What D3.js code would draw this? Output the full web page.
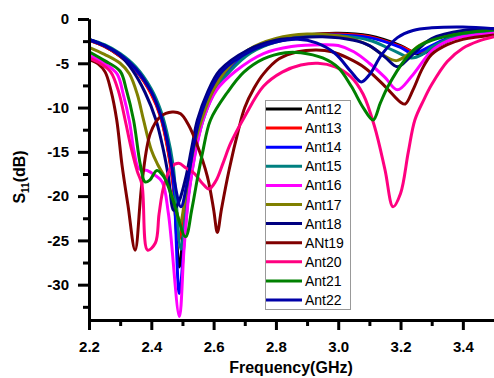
<!DOCTYPE html>
<html>
<head>
<meta charset="utf-8">
<script src="https://cdn.jsdelivr.net/npm/d3@7"></script>
<style>
body{margin:0;background:#fff}
svg{display:block}
</style>
</head>
<body>
<script>
let names = ['Ant12','Ant13','Ant14','Ant15','Ant16','Ant17','Ant18','ANt19','Ant20','Ant21','Ant22']
let colors = ['#000000','#ff0000','#0000ff','#008080','#ff00ff','#808000','#000080','#800000','#ff0080','#008000','#0000a8']
let xTicks = [2.2,2.4,2.6,2.8,3.0,3.2,3.4]
let xMinor = [2.3,2.5,2.7,2.9,3.1,3.3]
let yTicks = [0,-5,-10,-15,-20,-25,-30]
let yMinor = [-2.5,-7.5,-12.5,-17.5,-22.5,-27.5,-32.5]

// [GHz, dB]
let ant12 = [[2.2,-2.4],[2.25,-3.1],[2.3,-4.2],[2.35,-5.8],[2.4,-8.4],[2.43,-11],[2.45,-14],[2.47,-18.5],[2.49,-28],[2.505,-23],[2.52,-18.5],[2.54,-14.5],[2.56,-11.3],[2.6,-7.8],[2.64,-5.8],[2.71,-3.6],[2.8,-2.4],[2.9,-1.8],[3.0,-1.6],[3.1,-1.9],[3.2,-3.0],[3.26,-4.0],[3.3,-3.4],[3.35,-2.5],[3.4,-1.9],[3.5,-1.3]]
let ant13 = [[2.2,-2.4],[2.25,-3.1],[2.3,-4.2],[2.35,-5.8],[2.4,-8.5],[2.43,-11.1],[2.45,-14.2],[2.47,-18.8],[2.487,-25],[2.505,-22],[2.52,-18.3],[2.54,-14.3],[2.56,-11.2],[2.6,-7.7],[2.64,-5.8],[2.71,-3.6],[2.8,-2.4],[2.9,-1.8],[3.0,-1.7],[3.1,-2.0],[3.2,-3.1],[3.25,-3.8],[3.3,-3.2],[3.35,-2.4],[3.4,-1.8],[3.5,-1.3]]
let ant14 = [[2.2,-2.4],[2.25,-3.0],[2.3,-4.1],[2.35,-5.7],[2.4,-8.2],[2.43,-10.8],[2.45,-13.6],[2.47,-18],[2.49,-31],[2.508,-24],[2.522,-19],[2.542,-14.5],[2.565,-11.2],[2.6,-8],[2.65,-5.8],[2.71,-3.8],[2.8,-2.5],[2.9,-1.9],[3.0,-1.8],[3.1,-2.1],[3.2,-3.2],[3.24,-3.9],[3.3,-3.0],[3.35,-2.2],[3.4,-1.7],[3.5,-1.3]]
let ant15 = [[2.2,-2.3],[2.25,-2.9],[2.3,-3.9],[2.35,-5.4],[2.4,-7.9],[2.43,-10.3],[2.45,-12.8],[2.47,-16.5],[2.495,-26],[2.51,-22],[2.525,-18.5],[2.545,-14.3],[2.57,-11],[2.61,-7.8],[2.655,-5.8],[2.72,-3.8],[2.8,-2.6],[2.9,-2.0],[3.0,-1.9],[3.1,-2.4],[3.18,-3.6],[3.235,-4.4],[3.27,-4.0],[3.3,-3.2],[3.35,-2.3],[3.4,-1.7],[3.5,-1.3]]
let ant16 = [[2.2,-4.1],[2.25,-5.0],[2.29,-6.2],[2.31,-8.5],[2.33,-11.6],[2.345,-15],[2.36,-16.9],[2.386,-17.1],[2.41,-17.6],[2.435,-18.4],[2.455,-22],[2.49,-33.6],[2.505,-26],[2.52,-20],[2.545,-14.5],[2.57,-11],[2.61,-8],[2.67,-5.9],[2.76,-3.9],[2.85,-3.1],[2.95,-2.9],[3.0,-3.0],[3.05,-3.7],[3.1,-5],[3.15,-6.6],[3.19,-8.0],[3.235,-6.5],[3.3,-3.6],[3.35,-2.5],[3.4,-2.0],[3.5,-1.6]]
let ant17 = [[2.2,-3.2],[2.25,-4.0],[2.3,-5.0],[2.33,-6.2],[2.355,-8.5],[2.375,-11.4],[2.4,-14.8],[2.42,-16.4],[2.45,-18.3],[2.475,-21],[2.493,-23],[2.505,-21],[2.52,-17.5],[2.54,-14],[2.565,-11],[2.6,-8],[2.64,-5.8],[2.71,-3.5],[2.8,-2.2],[2.9,-1.7],[3.0,-1.9],[3.05,-2.3],[3.1,-3.0],[3.15,-4.2],[3.187,-4.7],[3.22,-4.1],[3.26,-3.0],[3.3,-2.3],[3.4,-1.4],[3.5,-1.1]]
let ant18 = [[2.2,-2.3],[2.25,-3.0],[2.3,-4.1],[2.34,-5.8],[2.38,-8.3],[2.415,-11.4],[2.44,-15],[2.455,-17.8],[2.472,-21.6],[2.49,-20.5],[2.51,-18],[2.53,-14.5],[2.548,-11.4],[2.58,-8.3],[2.62,-5.8],[2.71,-3.5],[2.8,-2.4],[2.85,-2.2],[2.95,-2.0],[3.05,-2.4],[3.1,-3.0],[3.15,-4.3],[3.19,-5.4],[3.23,-4.3],[3.27,-3.0],[3.3,-2.2],[3.4,-1.3],[3.5,-1.1]]
let ant19 = [[2.2,-4.6],[2.23,-5.1],[2.252,-6.0],[2.27,-8],[2.289,-11.4],[2.306,-16.5],[2.325,-21],[2.348,-26.1],[2.37,-18.5],[2.397,-12.9],[2.43,-11.0],[2.467,-10.5],[2.494,-10.7],[2.52,-12],[2.547,-14.2],[2.58,-17.8],[2.6,-21.5],[2.612,-24.1],[2.625,-21.5],[2.65,-17],[2.68,-12.5],[2.7,-10],[2.73,-7.8],[2.76,-6.2],[2.81,-4.5],[2.87,-3.7],[2.93,-3.5],[2.98,-3.7],[3.03,-4.4],[3.085,-5.5],[3.15,-7.6],[3.2,-9.4],[3.215,-9.6],[3.24,-8],[3.27,-5.6],[3.3,-4.0],[3.35,-2.9],[3.4,-2.3],[3.5,-1.8]]
let ant20 = [[2.2,-4.4],[2.24,-5.1],[2.27,-6],[2.295,-8.2],[2.316,-11.4],[2.335,-14.5],[2.355,-17.2],[2.37,-18.7],[2.388,-26.1],[2.413,-25.3],[2.425,-22],[2.44,-18.9],[2.465,-16.7],[2.488,-16.3],[2.51,-16.8],[2.537,-17.4],[2.565,-18.6],[2.585,-19.2],[2.607,-18.3],[2.63,-16.3],[2.655,-14],[2.7,-11],[2.76,-7.6],[2.82,-6],[2.88,-5.2],[2.935,-5.0],[2.99,-5.4],[3.04,-6.5],[3.08,-8.5],[3.117,-12.2],[3.15,-17],[3.176,-21.2],[3.2,-19.7],[3.225,-15],[3.246,-11.4],[3.275,-9.1],[3.3,-7.4],[3.35,-4.8],[3.4,-3.3],[3.45,-2.5],[3.5,-2.0]]
let ant21 = [[2.2,-3.7],[2.25,-4.7],[2.3,-5.9],[2.32,-8],[2.343,-11.4],[2.365,-16.5],[2.38,-18.4],[2.395,-18.2],[2.418,-17.1],[2.44,-17.8],[2.47,-20.5],[2.51,-24.6],[2.53,-21.5],[2.547,-18.2],[2.565,-15],[2.59,-11.4],[2.644,-8.3],[2.697,-6],[2.76,-4.5],[2.83,-3.8],[2.88,-3.8],[2.95,-4.4],[3.0,-5.5],[3.042,-7.6],[3.08,-10],[3.112,-11.4],[3.135,-9.5],[3.16,-7.6],[3.214,-4.6],[3.25,-3.3],[3.3,-2.4],[3.4,-1.6],[3.5,-1.2]]
let ant22 = [[2.2,-2.3],[2.25,-3.0],[2.3,-4.0],[2.35,-5.6],[2.4,-8.2],[2.43,-10.8],[2.45,-13.5],[2.47,-17.5],[2.495,-21.2],[2.515,-18.5],[2.535,-14.5],[2.555,-11.3],[2.59,-8],[2.63,-5.8],[2.72,-3.6],[2.8,-2.6],[2.87,-2.3],[2.93,-2.7],[2.99,-3.9],[3.04,-5.9],[3.074,-7.1],[3.1,-6.3],[3.14,-4.0],[3.19,-2.1],[3.24,-1.3],[3.3,-1.0],[3.4,-0.9],[3.5,-1.1]]
let series = [ant12,ant13,ant14,ant15,ant16,ant17,ant18,ant19,ant20,ant21,ant22]

let font = '"Liberation Sans", Arial, sans-serif'
let width = 494, height = 378
let svg = d3.select('body').append('svg')
	.attr('width', width)
	.attr('height', height)
	.style('font-family', font)

let x = d3.scaleLinear().domain([2.2, 3.5]).range([89, 494])
let y = d3.scaleLinear().domain([-34, 0]).range([320.1, 19])

svg.append('clipPath').attr('id', 'plot')
	.append('rect').attr('x', 89).attr('y', 0).attr('width', 405).attr('height', 320)

let line = d3.line()
	.x(d => x(d[0]))
	.y(d => y(d[1]))
	.curve(d3.curveCatmullRom.alpha(0.5))

svg.append('g').attr('clip-path', 'url(#plot)')
	.selectAll('path').data(series).join('path')
	.attr('d', line)
	.attr('fill', 'none')
	.attr('stroke', (d, i) => colors[i])
	.attr('stroke-width', 3)
	.attr('stroke-linejoin', 'round')

// axes
function styleAxis(g) {
	g.select('.domain').attr('stroke', '#000').attr('stroke-width', 3)
	g.selectAll('.tick line').attr('stroke', '#000').attr('stroke-width', 3)
	g.selectAll('.tick text').attr('fill', '#000')
		.style('font-family', font).style('font-weight', 'bold').style('font-size', '15px')
}
svg.append('g').attr('transform', 'translate(0,320)')
	.call(d3.axisBottom(x).tickValues(xMinor).tickSize(6).tickSizeOuter(0).tickFormat(''))
	.call(styleAxis)
svg.append('g').attr('transform', 'translate(0,320)')
	.call(d3.axisBottom(x).tickValues(xTicks).tickSize(10).tickSizeOuter(0).tickPadding(11).tickFormat(d => d.toFixed(1)))
	.call(styleAxis)
svg.append('g').attr('transform', 'translate(89,0)')
	.call(d3.axisLeft(y).tickValues(yMinor).tickSize(6).tickSizeOuter(0).tickFormat(''))
	.call(styleAxis)
svg.append('g').attr('transform', 'translate(89,0)')
	.call(d3.axisLeft(y).tickValues(yTicks).tickSize(11).tickSizeOuter(0).tickPadding(9).tickFormat(d => String(d)))
	.call(styleAxis)

// titles
svg.append('text')
	.attr('x', 291).attr('y', 373)
	.attr('text-anchor', 'middle')
	.style('font-weight', 'bold').style('font-size', '16px')
	.text('Frequency(GHz)')

let yt = svg.append('text')
	.attr('transform', 'translate(25,177) rotate(-90)')
	.attr('text-anchor', 'middle')
	.style('font-weight', 'bold').style('font-size', '16px')
yt.append('tspan').text('S')
yt.append('tspan').attr('dy', 4).style('font-size', '10px').text('11')
yt.append('tspan').attr('dy', -4).text('(dB)')

// legend
let lg = svg.append('g')
lg.append('rect')
	.attr('x', 265.5).attr('y', 100.5).attr('width', 85).attr('height', 209)
	.attr('fill', '#fff').attr('stroke', '#999').attr('stroke-width', 1)
let row = lg.selectAll('g.row').data(names).join('g')
	.attr('class', 'row')
	.attr('transform', (d, i) => `translate(0,${109 + i * 19.1})`)
row.append('line')
	.attr('x1', 266).attr('x2', 302)
	.attr('stroke', (d, i) => colors[i])
	.attr('stroke-width', 3)
row.append('text')
	.attr('x', 305).attr('y', 0).attr('dy', '0.36em')
	.style('font-size', '14px')
	.text(d => d)
</script>
</body>
</html>
